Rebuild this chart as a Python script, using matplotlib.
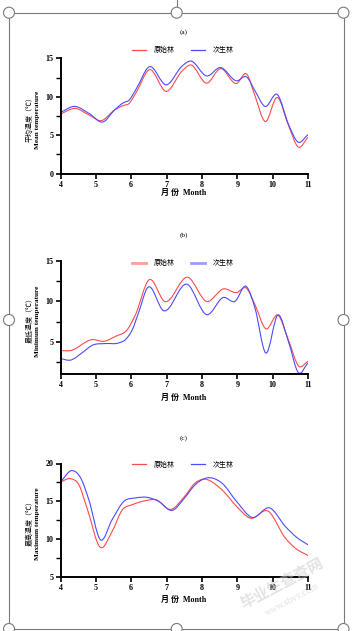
import numpy as np
import matplotlib
matplotlib.use("Agg")
import matplotlib.pyplot as plt
from matplotlib.path import Path
from matplotlib.patches import PathPatch, Circle
from matplotlib.lines import Line2D

# ---- data (month position, temperature) ----
# (a) mean temperature
mean_x_primary = [4.0, 4.42, 4.82, 5.15, 5.53, 5.8, 5.92, 6.14, 6.5, 7.0, 7.44, 7.67,
                  8.14, 8.52, 8.98, 9.27, 9.5, 9.78, 10.14, 10.45, 10.73, 11.0]
mean_primary = [7.76, 8.49, 7.6, 6.9, 8.28, 8.9, 9.05, 10.56, 13.5, 10.7, 13.36, 14.14,
                11.77, 13.66, 11.72, 12.93, 10.13, 6.8, 9.9, 6.25, 3.45, 4.74]
mean_x_secondary = [4.0, 4.4, 4.82, 5.2, 5.53, 5.8, 5.92, 6.14, 6.5, 7.0, 7.44, 7.67,
                    8.14, 8.52, 8.98, 9.27, 9.5, 9.78, 10.14, 10.45, 10.72, 11.0]
mean_secondary = [7.97, 8.75, 7.8, 6.72, 8.28, 9.27, 9.48, 11.0, 13.88, 11.55, 14.0, 14.65,
                  12.7, 13.8, 12.07, 12.55, 10.78, 8.75, 10.26, 6.4, 4.1, 5.08]

# (b) minimum temperature
min_x_primary = [4.0, 4.28, 4.9, 5.23, 5.56, 5.89, 6.12, 6.5, 6.95, 7.6, 8.14, 8.61,
                 8.98, 9.26, 9.5, 9.8, 10.16, 10.45, 10.74, 11.0]
min_primary = [3.93, 3.93, 5.29, 5.08, 5.7, 6.52, 8.36, 12.66, 10.0, 12.99, 10.0, 11.56,
               11.1, 11.64, 9.6, 6.64, 8.28, 5.2, 2.0, 2.62]
min_x_secondary = [4.0, 4.28, 4.61, 4.9, 5.27, 5.65, 5.84, 6.03, 6.22, 6.45, 6.92, 7.58,
                   8.14, 8.61, 8.93, 9.26, 9.5, 9.8, 10.16, 10.45, 10.73, 11.0]
min_secondary = [2.95, 2.75, 3.65, 4.59, 4.8, 4.88, 5.3, 6.5, 8.77, 11.64, 8.85, 12.13,
                 8.36, 10.5, 10.0, 11.84, 9.18, 3.65, 8.36, 5.0, 1.19, 2.42]

# (c) maximum temperature
max_x_primary = [4.0, 4.28, 4.52, 4.75, 5.13, 5.46, 5.75, 6.03, 6.4, 6.69, 7.13, 7.5,
                 7.81, 8.0, 8.56, 8.98, 9.36, 9.88, 10.36, 10.64, 11.0]
max_primary = [17.57, 18.0, 17.2, 14.13, 8.93, 11.05, 13.9, 14.57, 15.1, 15.24, 13.95, 15.6,
               17.44, 17.9, 16.56, 14.35, 12.8, 13.7, 10.16, 8.84, 7.87]
max_x_secondary = [4.0, 4.33, 4.57, 4.8, 5.13, 5.46, 5.79, 6.12, 6.45, 6.78, 7.16, 7.5,
                   7.81, 8.14, 8.56, 8.98, 9.41, 9.93, 10.36, 10.67, 11.0]
max_secondary = [17.57, 19.07, 18.1, 15.24, 9.94, 12.6, 15.0, 15.46, 15.54, 15.0, 13.82, 15.4,
                 17.2, 18.1, 17.44, 15.0, 12.9, 14.13, 11.7, 10.3, 9.28]

series_names = ["原始林", "次生林"]
month_ticks = [4, 5, 6, 7, 8, 9, 10, 11]

RED = "#ff4b4b"
BLUE = "#4b4bff"
FONT = ["Liberation Serif", "Noto Sans CJK SC"]
CJK = ["Noto Sans CJK SC", "Liberation Serif"]

W, H = 353, 631


def smooth_path(x, y):
    """Smooth line through the read points (cubic Hermite drawn as bezier)."""
    x = np.asarray(x, float); y = np.asarray(y, float)
    m = np.gradient(y, x)
    verts = [(x[0], y[0])]
    codes = [Path.MOVETO]
    for i in range(len(x) - 1):
        h = (x[i + 1] - x[i]) / 3
        verts += [(x[i] + h, y[i] + m[i] * h),
                  (x[i + 1] - h, y[i + 1] - m[i + 1] * h),
                  (x[i + 1], y[i + 1])]
        codes += [Path.CURVE4] * 3
    return Path(verts, codes)


def px_axes(fig, left, top, right, bottom):
    return fig.add_axes([left / W, 1 - bottom / H, (right - left) / W, (bottom - top) / H])


panels = [
    dict(label="(a)", top=58.3, bottom=173.7, ylim=(0, 15), major=[0, 5, 10, 15],
         minor=[2.5, 7.5, 12.5], title_y=32, leg_y=50, leg_alpha=1.0, leg_lw=0.9,
         ylab_cn="平均温度（℃）", ylab_en="Mean temperature", xlab_y=192.5,
         data=[(mean_x_primary, mean_primary), (mean_x_secondary, mean_secondary)]),
    dict(label="(b)", top=261, bottom=374.3, ylim=(1, 15), major=[5, 10, 15],
         minor=[2.5, 7.5, 12.5], title_y=235, leg_y=263, leg_alpha=0.55, leg_lw=2.0,
         ylab_cn="最低温度（℃）", ylab_en="Minimum temperature", xlab_y=397.5,
         data=[(min_x_primary, min_primary), (min_x_secondary, min_secondary)]),
    dict(label="(c)", top=463.5, bottom=577.3, ylim=(5, 20), major=[5, 10, 15, 20],
         minor=[7.5, 12.5, 17.5], title_y=438, leg_y=464.5, leg_alpha=1.0, leg_lw=0.9,
         ylab_cn="最高温度（℃）", ylab_en="Maximum temperature", xlab_y=600,
         data=[(max_x_primary, max_primary), (max_x_secondary, max_secondary)]),
]

fig = plt.figure(figsize=(W / 100, H / 100), dpi=100)
fig.patch.set_facecolor("white")

for p in panels:
    ax = px_axes(fig, 60.5, p["top"], 308, p["bottom"])
    for (xs, ys), col in zip(p["data"], [RED, BLUE]):
        ax.add_patch(PathPatch(smooth_path(xs, ys), fill=False, edgecolor=col, lw=0.8))
    ax.set_xlim(4, 11)
    ax.set_ylim(*p["ylim"])
    ax.set_xticks(month_ticks)
    ax.set_yticks(p["major"])
    ax.set_yticks(p["minor"], minor=True)
    ax.spines["top"].set_visible(False)
    ax.spines["right"].set_visible(False)
    for s in ("left", "bottom"):
        ax.spines[s].set_linewidth(1.4)
    ax.tick_params(which="major", length=3.5, width=1.2, pad=1.5, labelsize=5.8)
    ax.tick_params(which="minor", length=3.5, width=1.0)
    for t in ax.get_xticklabels() + ax.get_yticklabels():
        t.set_fontfamily(FONT)
        t.set_fontweight("bold")
    ax.set_facecolor("none")

    # y label: Chinese line + English line
    axw = 308 - 60.5
    ax.text(-31 / axw, 0.49, p["ylab_cn"], transform=ax.transAxes, rotation=90,
            ha="center", va="center", fontsize=5.0, family=CJK)
    ax.text(-22.8 / axw, 0.47, p["ylab_en"], transform=ax.transAxes, rotation=90,
            ha="center", va="center", fontsize=5.2, family=FONT, fontweight="bold")

    # x label and panel title
    fig.text(184 / W, 1 - p["xlab_y"] / H, "月 份  Month", ha="center", va="center",
             fontsize=5.8, family=FONT, fontweight="bold")
    fig.text(184 / W, 1 - p["title_y"] / H, p["label"], ha="center", va="center",
             fontsize=5.2, family=FONT)

    handles = [Line2D([], [], color=c, lw=p["leg_lw"], alpha=p["leg_alpha"]) for c in (RED, BLUE)]
    fig.legend(handles, series_names, loc="center", ncol=2, frameon=False,
               bbox_to_anchor=(183 / W, 1 - p["leg_y"] / H),
               prop=dict(family=CJK, size=5), handlelength=2.0,
               handletextpad=1.1, columnspacing=2.4)

# selection frame of the embedded picture
gray = "#7a7a7a"
fx0, fx1, fy0, fy1 = 9, 343.5, 12.7, 629
fig.add_artist(Line2D([fx0 / W, fx1 / W, fx1 / W, fx0 / W, fx0 / W],
                      [1 - fy0 / H, 1 - fy0 / H, 1 - fy1 / H, 1 - fy1 / H, 1 - fy0 / H],
                      transform=fig.transFigure, color=gray, lw=0.8))
fig.add_artist(Line2D([176.7 / W, 176.7 / W], [1, 1 - fy0 / H],
                      transform=fig.transFigure, color=gray, lw=0.8))
handles_px = [(fx0, fy0), (176.7, fy0), (fx1, fy0), (fx0, 320), (fx1, 320),
              (fx0, fy1), (176.7, fy1), (fx1, fy1)]
for hx, hy in handles_px:
    fig.add_artist(Circle((hx / 100, (H - hy) / 100), 0.055, transform=fig.dpi_scale_trans,
                          facecolor="white", edgecolor=gray, lw=0.8, zorder=10))

# watermark
fig.text(282 / W, 1 - 583 / H, "毕业生查查网", rotation=28, ha="center", va="center",
         fontsize=11, color="#cccccc", alpha=0.55, family=CJK, fontweight="bold")
fig.text(292 / W, 1 - 600 / H, "www.sbvv.com", rotation=28, ha="center", va="center",
         fontsize=7, color="#cccccc", alpha=0.55, family=FONT)

fig.savefig("out.png", dpi=100)
